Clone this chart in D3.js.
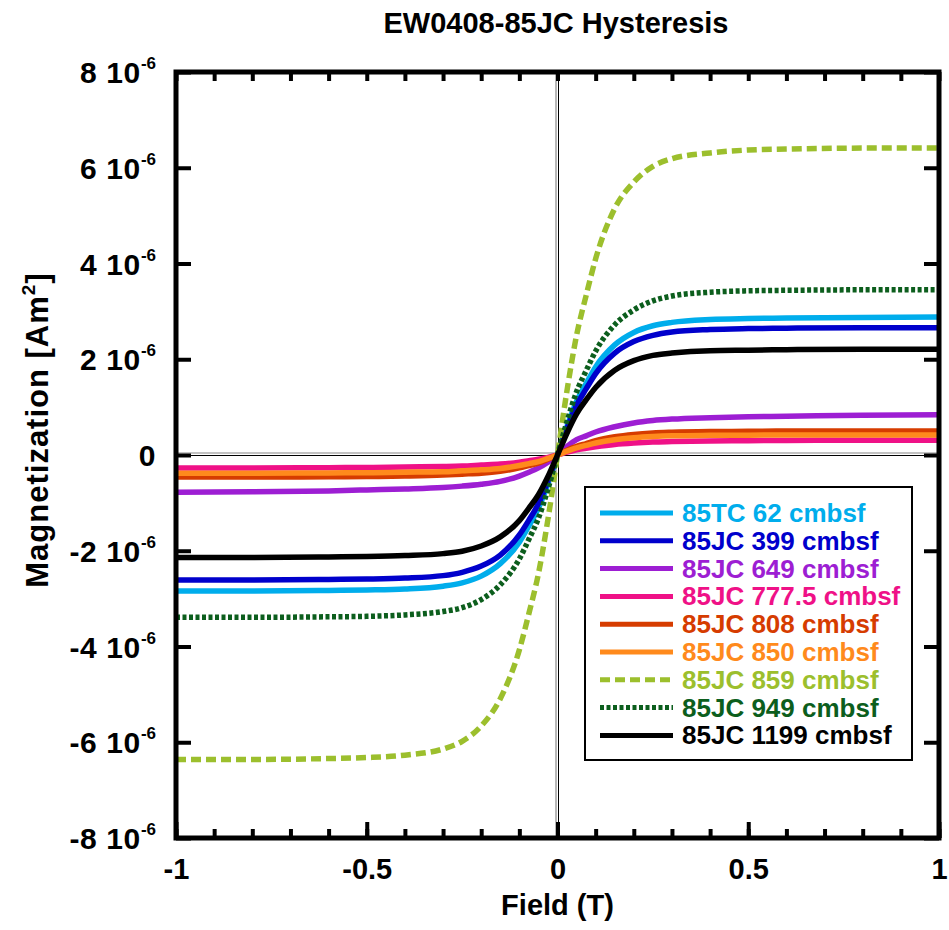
<!DOCTYPE html>
<html>
<head>
<meta charset="utf-8">
<script src="https://cdn.jsdelivr.net/npm/d3@7"></script>
<style>
body { margin: 0; background: #fff; }
svg { display: block; font-family: "Liberation Sans", Arial, sans-serif; font-weight: bold; }
</style>
</head>
<body>
<svg id="chart" width="949" height="930"></svg>
<script>
// field in T, magnetization in 10^-6 Am^2
var fieldT = [-1, -0.8, -0.6, -0.5, -0.4, -0.3, -0.25, -0.2, -0.15, -0.1, -0.075, -0.05, -0.025, 0,
	0.025, 0.05, 0.075, 0.1, 0.15, 0.2, 0.25, 0.3, 0.4, 0.5, 0.6, 0.8, 1]

var m62 = [-2.84, -2.84, -2.83, -2.82, -2.80, -2.74, -2.67, -2.53, -2.27, -1.82, -1.48, -1.11, -0.60, 0,
	0.60, 1.12, 1.49, 1.84, 2.30, 2.56, 2.70, 2.77, 2.83, 2.85, 2.86, 2.87, 2.88]
var m399 = [-2.61, -2.61, -2.60, -2.59, -2.57, -2.52, -2.45, -2.32, -2.09, -1.67, -1.36, -1.02, -0.55, 0,
	0.56, 1.04, 1.38, 1.70, 2.13, 2.37, 2.50, 2.57, 2.62, 2.64, 2.65, 2.66, 2.66]
var m649 = [-0.78, -0.77, -0.75, -0.73, -0.71, -0.68, -0.65, -0.61, -0.55, -0.44, -0.36, -0.27, -0.15, 0,
	0.18, 0.32, 0.40, 0.48, 0.59, 0.67, 0.72, 0.75, 0.78, 0.80, 0.81, 0.83, 0.84]
var m7775 = [-0.27, -0.27, -0.265, -0.26, -0.25, -0.24, -0.23, -0.21, -0.19, -0.15, -0.12, -0.09, -0.05, 0,
	0.06, 0.11, 0.14, 0.17, 0.22, 0.25, 0.27, 0.28, 0.295, 0.30, 0.305, 0.31, 0.31]
var m808 = [-0.46, -0.46, -0.455, -0.45, -0.44, -0.42, -0.40, -0.38, -0.34, -0.27, -0.22, -0.17, -0.09, 0,
	0.10, 0.18, 0.24, 0.30, 0.38, 0.43, 0.46, 0.475, 0.49, 0.495, 0.50, 0.50, 0.50]
var m850 = [-0.38, -0.38, -0.375, -0.37, -0.36, -0.35, -0.33, -0.31, -0.28, -0.22, -0.18, -0.14, -0.07, 0,
	0.08, 0.15, 0.20, 0.25, 0.32, 0.36, 0.385, 0.40, 0.41, 0.415, 0.42, 0.42, 0.42]
var m859 = [-6.36, -6.36, -6.34, -6.32, -6.27, -6.14, -5.98, -5.66, -5.09, -4.07, -3.31, -2.48, -1.34, 0,
	1.35, 2.50, 3.33, 4.10, 5.15, 5.70, 6.03, 6.19, 6.31, 6.37, 6.39, 6.41, 6.41]
var m949 = [-3.39, -3.39, -3.38, -3.37, -3.34, -3.27, -3.19, -3.02, -2.71, -2.17, -1.76, -1.32, -0.71, 0,
	0.70, 1.32, 1.76, 2.17, 2.72, 3.03, 3.22, 3.32, 3.40, 3.43, 3.44, 3.45, 3.45]
var m1199 = [-2.14, -2.14, -2.13, -2.12, -2.10, -2.06, -2.01, -1.90, -1.71, -1.37, -1.11, -0.83, -0.45, 0,
	0.46, 0.86, 1.15, 1.41, 1.77, 1.97, 2.08, 2.13, 2.18, 2.19, 2.20, 2.21, 2.21]

var seriesNames = ["85TC 62 cmbsf", "85JC 399 cmbsf", "85JC 649 cmbsf", "85JC 777.5 cmbsf", "85JC 808 cmbsf",
	"85JC 850 cmbsf", "85JC 859 cmbsf", "85JC 949 cmbsf", "85JC 1199 cmbsf"]
var seriesValues = [m62, m399, m649, m7775, m808, m850, m859, m949, m1199]
var seriesColors = ["#00adec", "#0000cc", "#9d1ed3", "#ef1187", "#d63c00", "#ff8a1c", "#9cbf2d", "#0c5e1d", "#000000"]
var seriesDash = [null, null, null, null, null, null, "10,5", "4,2.5", null]

var xMajor = [-1, -0.5, 0, 0.5, 1]
var xMajorLabels = ["-1", "-0.5", "0", "0.5", "1"]
var yTicks = [-8, -6, -4, -2, 0, 2, 4, 6, 8]
var yTickLabels = ["-8 10", "-6 10", "-4 10", "-2 10", "0", "2 10", "4 10", "6 10", "8 10"]

const LEFT = 176, RIGHT = 939, TOP = 72, BOTTOM = 838
var chart = d3.select("#chart")

var x = d3.scaleLinear().domain([-1, 1]).range([LEFT, RIGHT])
var y = d3.scaleLinear().domain([-8, 8]).range([BOTTOM, TOP])

// zero lines (double thin line)
chart.append("line").attr("x1", LEFT).attr("x2", RIGHT)
	.attr("y1", y(0) - 2).attr("y2", y(0) - 2).attr("stroke", "#888").attr("stroke-width", 1.2)
chart.append("line").attr("x1", LEFT).attr("x2", RIGHT)
	.attr("y1", y(0) + 0.5).attr("y2", y(0) + 0.5).attr("stroke", "#000").attr("stroke-width", 1)
chart.append("line").attr("y1", TOP).attr("y2", BOTTOM)
	.attr("x1", x(0) - 1.5).attr("x2", x(0) - 1.5).attr("stroke", "#888").attr("stroke-width", 1.2)
chart.append("line").attr("y1", TOP).attr("y2", BOTTOM)
	.attr("x1", x(0) + 1).attr("x2", x(0) + 1).attr("stroke", "#000").attr("stroke-width", 1)

var line = d3.line()
	.x((d, i) => x(fieldT[i]))
	.y(d => y(d))
	.curve(d3.curveMonotoneX)

chart.append("g").selectAll("path").data(seriesValues)
	.enter().append("path")
		.attr("d", d => line(d))
		.attr("fill", "none")
		.attr("stroke", (_, i) => seriesColors[i])
		.attr("stroke-width", 5.5)
		.attr("stroke-dasharray", (_, i) => seriesDash[i])

// frame
chart.append("rect")
	.attr("x", LEFT).attr("y", TOP)
	.attr("width", RIGHT - LEFT).attr("height", BOTTOM - TOP)
	.attr("fill", "none").attr("stroke", "#000").attr("stroke-width", 5)

var minorX = d3.range(-10, 11).map(i => i / 10)

function styleAxis(sel) {
	sel.select(".domain").remove()
	sel.selectAll(".tick line").attr("stroke-width", 4)
	sel.attr("font-size", 29).attr("font-family", null).attr("font-weight", "bold")
}

chart.append("g").attr("transform", "translate(0," + BOTTOM + ")")
	.call(d3.axisBottom(x).tickValues(minorX).tickSize(-9).tickFormat(""))
	.call(styleAxis)
chart.append("g").attr("transform", "translate(0," + BOTTOM + ")")
	.call(d3.axisBottom(x).tickValues(xMajor).tickSize(-16).tickFormat((d, i) => xMajorLabels[i]))
	.call(styleAxis)
	.selectAll("text").attr("y", 41).attr("dy", null).attr("fill", "#000")
chart.append("g").attr("transform", "translate(0," + TOP + ")")
	.call(d3.axisTop(x).tickValues(minorX).tickSize(-9).tickFormat(""))
	.call(styleAxis)

var yAxis = chart.append("g").attr("transform", "translate(" + LEFT + ",0)")
	.call(d3.axisLeft(y).tickValues(yTicks).tickSize(-15))
	.call(styleAxis)
yAxis.selectAll("text").each(function (d, i) {
	var t = d3.select(this).text("").attr("x", -20).attr("dy", "0.35em").attr("fill", "#000")
		.attr("font-size", 30).attr("letter-spacing", 0.6)
	t.append("tspan").text(yTickLabels[i])
	if (d !== 0) t.append("tspan").attr("font-size", 17).attr("letter-spacing", 0).attr("dy", -14).text("-6")
})
chart.append("g").attr("transform", "translate(" + RIGHT + ",0)")
	.call(d3.axisRight(y).tickValues(yTicks).tickSize(-15).tickFormat(""))
	.call(styleAxis)

// title and axis labels
chart.append("text")
	.attr("x", 556).attr("y", 33)
	.attr("text-anchor", "middle").attr("font-size", 29)
	.text("EW0408-85JC Hysteresis")
chart.append("text")
	.attr("x", x(0)).attr("y", 915)
	.attr("text-anchor", "middle").attr("font-size", 29)
	.text("Field (T)")
var yl = chart.append("text")
	.attr("transform", "translate(48,430) rotate(-90)")
	.attr("text-anchor", "middle").attr("font-size", 31).attr("letter-spacing", 1)
yl.append("tspan").text("Magnetization [Am")
yl.append("tspan").attr("font-size", 19).attr("dy", -13).text("2")
yl.append("tspan").attr("dy", 13).text("]")

// legend
var legend = chart.append("g")
legend.append("rect")
	.attr("x", 585).attr("y", 487).attr("width", 327).attr("height", 273)
	.attr("fill", "#fff").attr("stroke", "#000").attr("stroke-width", 2)
var rows = legend.selectAll("g.row").data(seriesNames)
	.enter().append("g").attr("class", "row")
	.attr("transform", (_, i) => "translate(0," + (513 + i * 27.8) + ")")
rows.append("line")
	.attr("x1", 600).attr("x2", 673)
	.attr("stroke", (_, i) => seriesColors[i])
	.attr("stroke-width", 5)
	.attr("stroke-dasharray", (_, i) => seriesDash[i])
rows.append("text")
	.attr("x", 682).attr("y", 9)
	.attr("font-size", 26)
	.attr("fill", (_, i) => seriesColors[i])
	.text(d => d)
</script>
</body>
</html>
